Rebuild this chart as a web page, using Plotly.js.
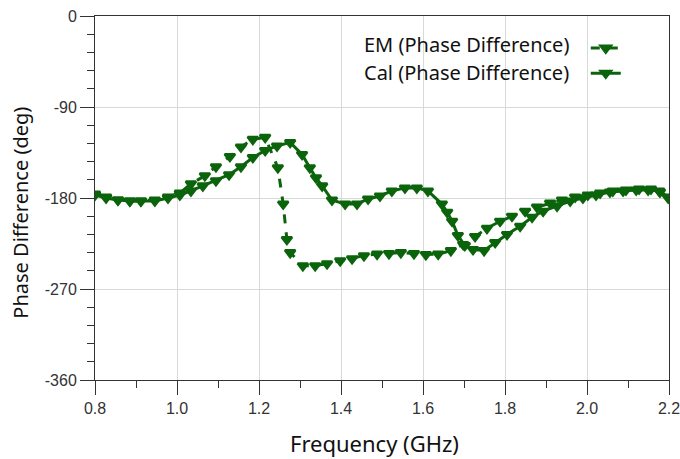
<!DOCTYPE html>
<html>
<head>
<meta charset="utf-8">
<script src="https://cdn.plot.ly/plotly-3.0.1.min.js"></script>
<style>html,body{margin:0;padding:0;background:#fff}#chart{width:680px;height:459px}</style>
</head>
<body>
<div id="chart"></div>
<script>
// Frequencies (GHz) and phase differences (deg)
const calFreq = [0.800,0.827,0.856,0.885,0.912,0.946,0.978,1.007,1.034,1.063,1.095,1.127,1.156,1.185,1.215,1.244,1.276,1.305,1.324,1.339,1.354,1.378,1.410,1.439,1.466,1.495,1.524,1.556,1.585,1.612,1.646,1.659,1.671,1.685,1.702,1.722,1.749,1.776,1.805,1.837,1.866,1.893,1.927,1.959,1.990,2.022,2.056,2.088,2.120,2.149,2.176,2.198];
const calPhase = [-177,-180,-182,-183,-183,-183,-180,-177,-173,-168,-163,-157,-149,-140,-133,-128.5,-125,-137,-150,-160,-168,-182,-186,-186,-181,-178,-173,-170,-170,-173,-186,-194,-203,-217,-227,-231,-232,-224,-216,-208,-199,-193,-188,-183,-180,-177,-174,-173,-172,-172,-173,-179];
const emFreq = [0.800,0.827,0.856,0.885,0.912,0.946,0.978,1.007,1.034,1.068,1.095,1.129,1.156,1.185,1.215,1.246,1.259,1.268,1.276,1.307,1.337,1.366,1.398,1.427,1.456,1.488,1.517,1.546,1.578,1.607,1.637,1.668,1.698,1.727,1.756,1.788,1.817,1.849,1.878,1.910,1.939,1.971,2.002,2.032,2.063,2.095,2.127,2.156,2.178,2.198];
const emPhase = [-176,-179,-182,-183,-183,-182,-179,-175,-166,-158,-149,-139,-129.5,-122,-120,-150,-186,-221,-234,-247,-247,-245,-242,-240,-237,-235.5,-235,-234,-235,-236,-235.5,-232,-226,-218,-210,-203,-198,-193,-189,-185,-182,-179,-177,-175,-173,-172,-171,-171,-174,-180];
const seriesNames = ["EM (Phase Difference)", "Cal (Phase Difference)"];
const xTitle = "Frequency (GHz)";
const yTitle = "Phase Difference (deg)";
const xTickVals = [0.8,1.0,1.2,1.4,1.6,1.8,2.0,2.2];
const xTickText = ["0.8","1.0","1.2","1.4","1.6","1.8","2.0","2.2"];
const yTickVals = [0,-90,-180,-270,-360];
const yTickText = ["0","-90","-180","-270","-360"];

const green = "#0b640b";
const traces = [
  {x: emFreq, y: emPhase, name: " ", meta: seriesNames[0], type: "scatter", mode: "lines+markers",
   line: {color: green, width: 3, dash: "dash"},
   marker: {symbol: "triangle-down", size: 9, color: green, line: {color: green, width: 2.5}}},
  {x: calFreq, y: calPhase, name: " ", meta: seriesNames[1], type: "scatter", mode: "lines+markers",
   line: {color: green, width: 3},
   marker: {symbol: "triangle-down", size: 9, color: green, line: {color: green, width: 2.5}}}
];

const tickFont = {family: "Liberation Sans, Arial, sans-serif", size: 16, color: "#333"};
const textFamily = "Noto Sans, Open Sans, sans-serif";
const layout = {
  width: 680, height: 459,
  margin: {l: 95, r: 11, t: 16, b: 79, autoexpand: false},
  paper_bgcolor: "#fff", plot_bgcolor: "#fff",
  showlegend: true,
  legend: {x: 0.855, y: 0.96, xanchor: "left", yanchor: "top", bgcolor: "rgba(0,0,0,0)",
           font: {size: 17, color: "rgba(0,0,0,0)"}, itemwidth: 30, tracegroupgap: 0},
  xaxis: {range: [0.8, 2.2], tickvals: xTickVals, ticktext: xTickText,
          ticks: "outside", ticklen: 14, tickcolor: "#333", tickwidth: 1,
          showline: true, linecolor: "#333", linewidth: 1, mirror: true,
          showgrid: true, gridcolor: "#d9d9d9", zeroline: false,
          ticklabeloverflow: "allow",
          minor: {dtick: 0.1, ticks: "outside", ticklen: 7, tickcolor: "#333", showgrid: false},
          tickfont: tickFont},
  yaxis: {range: [-360, 0], tickvals: yTickVals, ticktext: yTickText,
          ticks: "outside", ticklen: 14, tickcolor: "#333", tickwidth: 1,
          showline: true, linecolor: "#333", linewidth: 1, mirror: true,
          showgrid: true, gridcolor: "#d9d9d9", zeroline: false,
          ticklabeloverflow: "allow",
          minor: {dtick: 18, ticks: "outside", ticklen: 7, tickcolor: "#333", showgrid: false},
          tickfont: tickFont},
  annotations: [
    {xref: "paper", yref: "paper", x: 0.829, y: 0.922, xanchor: "right", yanchor: "middle", showarrow: false,
     text: seriesNames[0], font: {family: textFamily, size: 20, color: "#111"}},
    {xref: "paper", yref: "paper", x: 0.829, y: 0.845, xanchor: "right", yanchor: "middle", showarrow: false,
     text: seriesNames[1], font: {family: textFamily, size: 20, color: "#111"}},
    {xref: "paper", yref: "paper", x: (374 - 95) / 574, y: (380 - 443) / 363.3, xanchor: "center", yanchor: "middle", showarrow: false,
     text: xTitle, font: {family: textFamily, size: 22, color: "#111"}},
    {xref: "paper", yref: "paper", x: (21 - 95) / 574, y: (380 - 213) / 363.3, xanchor: "center", yanchor: "middle", showarrow: false,
     textangle: -90, text: yTitle, font: {family: textFamily, size: 20, color: "#111"}}
  ]
};
Plotly.newPlot("chart", traces, layout, {displayModeBar: false, staticPlot: true});
</script>
</body>
</html>
